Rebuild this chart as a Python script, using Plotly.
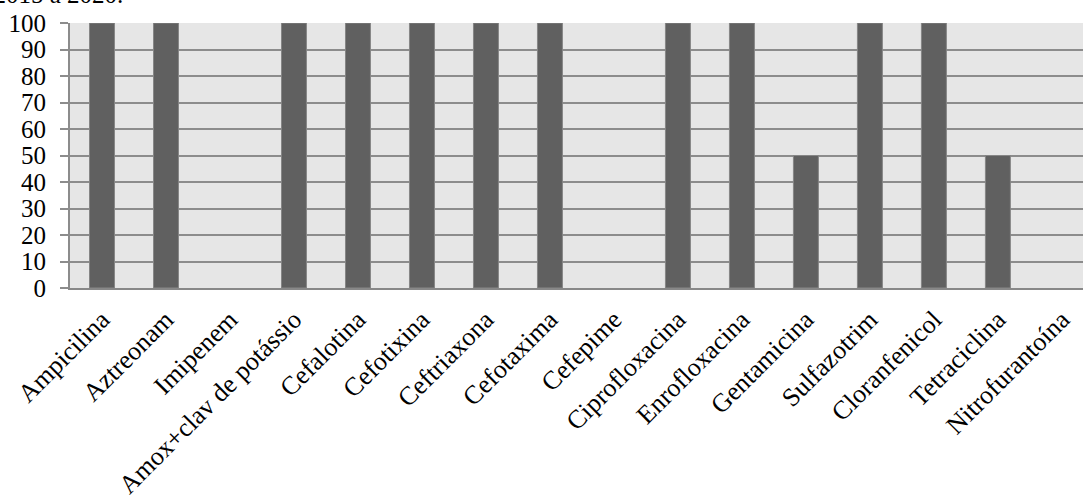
import plotly.graph_objects as go

categories = ["Ampicilina", "Aztreonam", "Imipenem", "Amox+clav de potássio",
              "Cefalotina", "Cefotixina", "Ceftriaxona", "Cefotaxima", "Cefepime",
              "Ciprofloxacina", "Enrofloxacina", "Gentamicina", "Sulfazotrim",
              "Cloranfenicol", "Tetraciclina", "Nitrofurantoína"]
values = [100, 100, 0, 100, 100, 100, 100, 100, 0, 100, 100, 50, 100, 100, 50, 0]
y_ticks = [0, 10, 20, 30, 40, 50, 60, 70, 80, 90, 100]

W, H = 1083, 495
L, R, T, B = 70, 0, 23, 207

fig = go.Figure(go.Bar(
    x=categories, y=values,
    marker=dict(color="#606060",
                line=dict(color="#868686", width=[1 if v else 0 for v in values])),
    width=0.39,
))

yfont = dict(family="Liberation Serif, Times New Roman, serif", size=25, color="#000000")
xfont = dict(family="Liberation Serif, Times New Roman, serif", size=26, color="#000000")

fig.update_layout(
    width=W, height=H,
    margin=dict(l=L, r=R, t=T, b=B, pad=0, autoexpand=False),
    paper_bgcolor="white", plot_bgcolor="#e6e6e6",
    font=yfont, showlegend=False,
    xaxis=dict(range=[-0.5, 15.33], tickangle=-45, showgrid=False, automargin=False,
               showline=True, linecolor="#888888", linewidth=2,
               ticks="", tickfont=xfont, ticklabelstandoff=4),
    yaxis=dict(range=[0, 100], tickvals=y_ticks, showgrid=True, automargin=False,
               gridcolor="#8c8c8c", gridwidth=2, zeroline=False,
               showline=True, linecolor="#8c8c8c", linewidth=2,
               ticks="outside", ticklen=8, tickwidth=2, tickcolor="#8c8c8c",
               ticklabelstandoff=9, tickfont=yfont),
    annotations=[dict(text="período de 2015 a 2020.", xref="paper", yref="paper",
                      x=(125 - L) / (W - L - R), y=1, xanchor="right", yanchor="bottom",
                      yshift=13, showarrow=False, font=yfont)],
)

fig.write_html("out.html")
